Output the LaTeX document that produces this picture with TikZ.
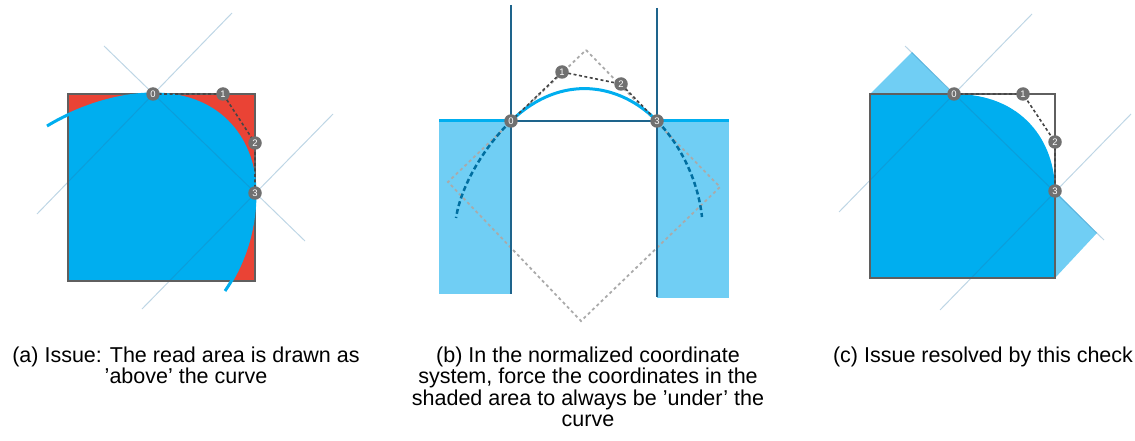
\documentclass[tikz,border=0pt]{standalone}
\usepackage{fontspec}
\setmainfont{Liberation Sans}
\usetikzlibrary{positioning}
\definecolor{curveblue}{RGB}{0,174,239}
\definecolor{shadeblue}{RGB}{112,206,244}
\definecolor{redfill}{RGB}{234,67,53}
\definecolor{guideblue}{RGB}{40,120,170}
\definecolor{axisblue}{RGB}{30,100,140}
\definecolor{extblue}{RGB}{0,110,160}
\definecolor{ptgray}{RGB}{112,112,112}
\definecolor{ctrlgray}{RGB}{70,70,70}
\definecolor{framegray}{RGB}{95,95,95}
\definecolor{diamondgray}{RGB}{170,170,170}

\begin{document}
\begin{tikzpicture}[x=1pt,y=-1pt,
  ptnode/.style={circle,fill=ptgray,text=white,inner sep=0pt,minimum size=13.5pt,font=\fontsize{9.5}{9.5}\selectfont},
  guide/.style={guideblue,opacity=.3,line width=1pt},
  ctrl/.style={ctrlgray,line width=1.6pt,dash pattern=on 3pt off 2.5pt},
  frame/.style={framegray,line width=1.5pt},
  bcurve/.style={curveblue,line width=3pt},
  caption/.style={align=center,font=\fontsize{21.5}{21.4}\selectfont,anchor=base,inner sep=0pt}]
\useasboundingbox (0,0) rectangle (1135,441);
% (a) issue
\coordinate (a0) at (153,94);
\coordinate (a1) at (223,94);
\coordinate (a2) at (255,143);
\coordinate (a3) at (255,193);
\fill[redfill] (68,94) rectangle (255,281);
\begin{scope}
\clip (68,94) rectangle (255,281);
\fill[curveblue] (47,126) .. controls (80,106) and (120,94) .. (a0) .. controls (a1) and (a2) .. (a3)
  .. controls (255,228) and (245,262) .. (225,291) -- (225,330) -- (30,330) -- (30,126) -- cycle;
\end{scope}
\draw[guide] (232,13) -- (37,214);
\draw[guide] (104,46) -- (305,241);
\draw[guide] (333,114) -- (142,309);
\draw[frame] (68,94) rectangle (255,281);
\draw[bcurve] (47,126) .. controls (80,106) and (120,94) .. (a0) .. controls (a1) and (a2) .. (a3)
  .. controls (255,228) and (245,262) .. (225,291);
\draw[ctrl] (a0) -- (a1) -- (a2) -- (a3);
\node[ptnode] (pa0) at (a0) {0};
\node[ptnode] (pa1) at (a1) {1};
\node[ptnode] (pa2) at (a2) {2};
\node[ptnode] (pa3) at (a3) {3};
% (b) normalized system
\coordinate (b0) at (511,121);
\coordinate (b1) at (562,72);
\coordinate (b2) at (621,84);
\coordinate (b3) at (657,121);
\fill[shadeblue] (439,121) rectangle (511,294);
\fill[shadeblue] (657,121) rectangle (729,298);
\draw[bcurve] (439,121) -- (b0);
\draw[bcurve] (b3) -- (729,121);
\draw[diamondgray,line width=1.8pt,dash pattern=on 3pt off 3pt] (586,50) -- (720,187) -- (581,321) -- (448,182) -- cycle;
\draw[axisblue,line width=1.5pt] (511,5) -- (511,294);
\draw[axisblue,line width=1.5pt] (657,8) -- (657,297);
\draw[axisblue,line width=1.5pt] (b0) -- (b3);
\draw[extblue,line width=2.5pt,dash pattern=on 5pt off 3pt] (b0) .. controls (490,141) and (462,180) .. (456,218);
\draw[extblue,line width=2.5pt,dash pattern=on 5pt off 3pt] (b3) .. controls (680,144) and (698,180) .. (702,217);
\draw[bcurve] (b0) .. controls (b1) and (b2) .. (b3);
\draw[ctrl] (b0) -- (b1) -- (b2) -- (b3);
\node[ptnode] (pb0) at (b0) {0};
\node[ptnode] (pb1) at (b1) {1};
\node[ptnode] (pb2) at (b2) {2};
\node[ptnode] (pb3) at (b3) {3};
% (c) resolved
\coordinate (c0) at (954,94);
\coordinate (c1) at (1023,94);
\coordinate (c2) at (1055,142);
\coordinate (c3) at (1055,191);
\fill[shadeblue] (870,94) -- (912,52) -- (c0) -- cycle;
\fill[shadeblue] (c3) -- (1097,233) -- (1055,278) -- cycle;
\fill[curveblue] (870,94) -- (c0) .. controls (c1) and (c2) .. (c3) -- (1055,278) -- (870,278) -- cycle;
\draw[guide] (1032,14) -- (839,212);
\draw[guide] (905,46) -- (1104,240);
\draw[guide] (1131,114) -- (940,310);
\draw[frame] (870,94) rectangle (1055,278);
\draw[ctrl] (c0) -- (c1) -- (c2) -- (c3);
\node[ptnode] (pc0) at (c0) {0};
\node[ptnode] (pc1) at (c1) {1};
\node[ptnode] (pc2) at (c2) {2};
\node[ptnode] (pc3) at (c3) {3};
% captions (base = last line)
\node[caption] (capa) at (186,383.5) {(a) Issue: The read area is drawn as\\'above' the curve};
\node[caption] (capb) at (588,426.5) {(b) In the normalized coordinate\\system, force the coordinates in the\\shaded area to always be 'under' the\\curve};
\node[caption] (capc) at (983,362) {(c) Issue resolved by this check};
\end{tikzpicture}
\end{document}
